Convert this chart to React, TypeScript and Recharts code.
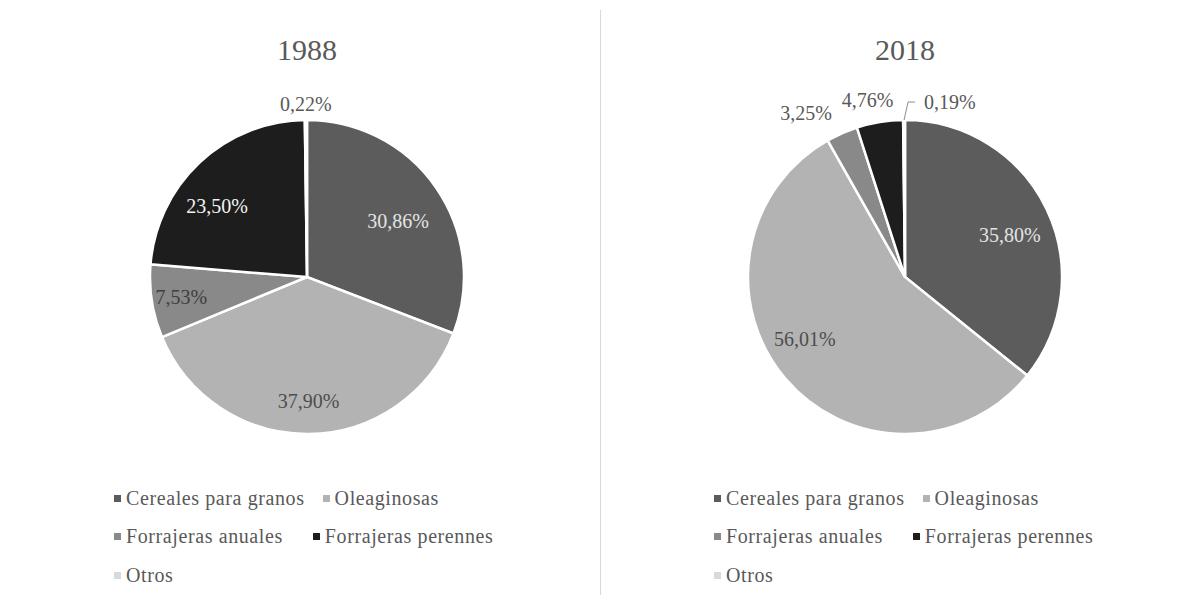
import { Cell, Legend, Pie, PieChart } from 'recharts'

const CATEGORIES = [
  'Cereales para granos',
  'Oleaginosas',
  'Forrajeras anuales',
  'Forrajeras perennes',
  'Otros',
]
const SHARE_1988 = [30.86, 37.9, 7.53, 23.5, 0.22]
const SHARE_2018 = [35.8, 56.01, 3.25, 4.76, 0.19]

const COLORS = ['#5c5c5c', '#b3b3b3', '#898989', '#1d1d1d', '#d9d9d9']
const INSIDE_INK = ['#e4e4e4', '#4d4d4d', '#404040', '#f2f2f2', '#595959']
const OUTSIDE_INK = '#595959'
const SERIF = '"Liberation Serif", "Times New Roman", serif'

// label placement: radius factor, angle nudge (deg), outside or leader
type Place = { r: number; rot: number; out?: boolean; leader?: boolean }
const PLACE_1988: Place[] = [
  { r: 0.68, rot: -3 },
  { r: 0.79, rot: 0 },
  { r: 0.81, rot: 0 },
  { r: 0.73, rot: 8.6 },
  { r: 1.1, rot: 0, out: true },
]
const PLACE_2018: Place[] = [
  { r: 0.72, rot: -3.6 },
  { r: 0.75, rot: -8.5 },
  { r: 1.22, rot: 7.4, out: true },
  { r: 1.15, rot: 2.7, out: true },
  { r: 1, rot: 0, out: true, leader: true },
]

const RAD = Math.PI / 180
const pct = (v: number) => `${v.toFixed(2).replace('.', ',')}%`

function makeLabel(places: Place[]) {
  return (p: any) => {
    const { cx, cy, midAngle, outerRadius, index, value } = p
    const pl = places[index]
    if (pl.leader) {
      const a = -midAngle * RAD
      const x0 = cx + outerRadius * Math.cos(a)
      const y0 = cy + outerRadius * Math.sin(a)
      const x1 = x0 + 4
      const y1 = y0 - 18
      const x2 = x1 + 7
      return (
        <g>
          <polyline points={`${x0},${y0} ${x1},${y1} ${x2},${y1}`} fill="none" stroke="#8c8c8c" strokeWidth={1} />
          <text x={x2 + 9} y={y1} textAnchor="start" dominantBaseline="central" fill={OUTSIDE_INK} fontSize={20} fontFamily={SERIF}>
            {pct(value)}
          </text>
        </g>
      )
    }
    const a = -(midAngle + pl.rot) * RAD
    const rr = outerRadius * pl.r
    return (
      <text
        x={cx + rr * Math.cos(a)}
        y={cy + rr * Math.sin(a)}
        textAnchor="middle"
        dominantBaseline="central"
        fill={pl.out ? OUTSIDE_INK : INSIDE_INK[index]}
        fontSize={20}
        fontFamily={SERIF}
      >
        {pct(value)}
      </text>
    )
  }
}

const ROWS = [[0, 1], [2, 3], [4]]

function LegendRows() {
  return (
    <div style={{ fontFamily: SERIF, fontSize: 20, color: '#595959', letterSpacing: 0.6 }}>
      {ROWS.map((row, ri) => (
        <div key={ri} style={{ display: 'flex', alignItems: 'center', height: 38.5, gap: ri === 1 ? 30 : 18 }}>
          {row.map((i) => (
            <span key={i} style={{ display: 'flex', alignItems: 'center', whiteSpace: 'nowrap' }}>
              <span style={{ width: 7, height: 7, background: COLORS[i], marginRight: 5, display: 'inline-block' }} />
              {CATEGORIES[i]}
            </span>
          ))}
        </div>
      ))}
    </div>
  )
}

function YearPie({ title, shares, places, cx }: { title: string; shares: number[]; places: Place[]; cx: number }) {
  const data = CATEGORIES.map((name, i) => ({ name, value: shares[i], fill: COLORS[i] }))
  return (
    <div style={{ position: 'relative', width: 596, height: 595 }}>
      <div
        style={{
          position: 'absolute',
          left: cx - 80,
          width: 160,
          top: 35,
          textAlign: 'center',
          fontFamily: SERIF,
          fontSize: 30,
          lineHeight: '30px',
          color: '#595959',
        }}
      >
        {title}
      </div>
      <PieChart width={596} height={595} margin={{ top: 0, right: 0, bottom: 0, left: 0 }}>
        <Pie
          data={data}
          dataKey="value"
          nameKey="name"
          cx={cx}
          cy={277}
          outerRadius={157}
          startAngle={90}
          endAngle={-270}
          stroke="#ffffff"
          strokeWidth={2.5}
          label={makeLabel(places)}
          labelLine={false}
          isAnimationActive={false}
        >
          {data.map((d, i) => (
            <Cell key={i} fill={d.fill} />
          ))}
        </Pie>
        <Legend
          verticalAlign="bottom"
          content={() => <LegendRows />}
          wrapperStyle={{ position: 'absolute', left: 114, top: 479, bottom: 'auto', width: 470 }}
        />
      </PieChart>
    </div>
  )
}

export default function App() {
  return (
    <div style={{ position: 'absolute', left: 0, top: 0, width: 1193, height: 595, background: '#ffffff' }}>
      <div style={{ position: 'absolute', left: 0, top: 0 }}>
        <YearPie title="1988" shares={SHARE_1988} places={PLACE_1988} cx={307} />
      </div>
      <div style={{ position: 'absolute', left: 600, top: 10, width: 1, height: 585, background: '#d9d9d9' }} />
      <div style={{ position: 'absolute', left: 600, top: 0 }}>
        <YearPie title="2018" shares={SHARE_2018} places={PLACE_2018} cx={305} />
      </div>
    </div>
  )
}
